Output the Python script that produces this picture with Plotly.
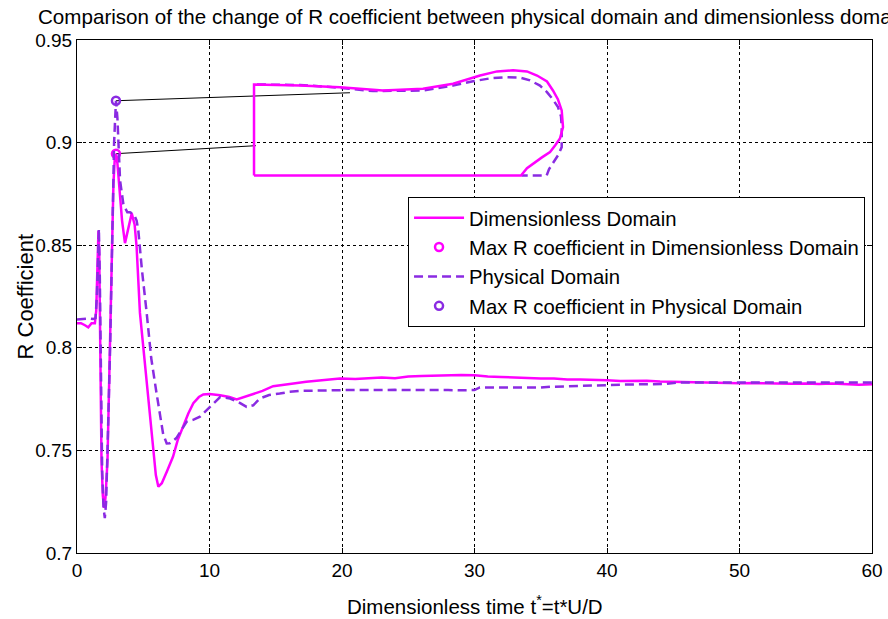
import plotly.graph_objects as go

# ---------------- data ----------------
t_dimless = [0, 0.3, 0.6, 0.85, 1.1, 1.35, 1.45, 1.55, 1.62, 1.68, 1.75, 1.85, 1.95, 2.05, 2.15,
             2.3, 2.45, 2.6, 2.75, 2.85, 2.94, 3.05, 3.2, 3.4, 3.62, 3.85, 4.13, 4.35, 4.5, 4.75,
             5.0, 5.26, 5.5, 5.76, 5.95, 6.14, 6.4, 6.8, 7.25, 7.6, 8.0, 8.4, 8.78, 9.2, 9.53,
             10.0, 10.8, 11.5, 12.05, 12.6, 13.3, 14.0, 14.8, 15.5, 16.2, 17.3, 18.5, 19.85,
             21, 22, 23, 24, 25, 26, 27, 28, 29, 30, 31, 32, 33, 34, 35, 36, 37, 38, 39, 40,
             41, 42, 43, 44, 45, 46, 47, 48, 49, 50, 51, 52, 53, 54, 55, 56, 57, 58, 59, 60]
r_dimless = [0.812, 0.812, 0.811, 0.810, 0.812, 0.812, 0.818, 0.840, 0.857, 0.845, 0.800, 0.745,
             0.728, 0.722, 0.727, 0.745, 0.790, 0.840, 0.880, 0.892, 0.8946, 0.890, 0.878, 0.862,
             0.851, 0.857, 0.8655, 0.860, 0.849, 0.817, 0.800, 0.784, 0.766, 0.749, 0.738, 0.7323,
             0.734, 0.740, 0.747, 0.755, 0.7615, 0.768, 0.773, 0.776, 0.7773, 0.7775, 0.7769,
             0.776, 0.7748, 0.776, 0.7777, 0.779, 0.7813, 0.782, 0.7825, 0.7834, 0.784, 0.785,
             0.7848, 0.785, 0.7855, 0.7852, 0.786, 0.7862, 0.7865, 0.7867, 0.7868, 0.7866,
             0.786, 0.7858, 0.7855, 0.7852, 0.785, 0.785, 0.7846, 0.7846, 0.7845, 0.7842,
             0.7838, 0.7838, 0.784, 0.7836, 0.7834, 0.7832, 0.7831, 0.783, 0.7828, 0.7827,
             0.7828, 0.7826, 0.7826, 0.7825, 0.7826, 0.7824, 0.7826, 0.7822, 0.782, 0.7822]

t_phys = [0, 0.3, 0.6, 0.9, 1.2, 1.4, 1.5, 1.58, 1.65, 1.72, 1.8, 1.9, 2.0, 2.1, 2.2, 2.35, 2.5,
          2.65, 2.8, 2.94, 3.05, 3.25, 3.5, 3.8, 4.0, 4.3, 4.5, 4.63, 4.9, 5.26, 5.6, 6.0, 6.5,
          6.77, 7.0, 7.5, 8.0, 8.28, 8.8, 9.28, 10.04, 10.8, 11.55, 12.2, 12.8, 13.3, 13.8,
          14.5, 15.3, 16.0, 16.8, 18, 19.8, 21, 22, 23, 24, 25, 26, 27, 28, 29, 30, 30.4, 31,
          32, 33, 34, 35, 35.7, 36.5, 37.5, 38.5, 39.5, 40.5, 41.5, 42.5, 43.5, 44.5, 45.3, 46,
          47, 48, 49, 50, 51, 52, 53, 54, 55, 56, 57, 58, 59, 60]
r_phys = [0.8138, 0.814, 0.8142, 0.8143, 0.814, 0.8145, 0.825, 0.845, 0.858, 0.835, 0.780, 0.740,
          0.722, 0.717, 0.725, 0.760, 0.800, 0.850, 0.900, 0.9204, 0.912, 0.8816, 0.870, 0.866,
          0.866, 0.865, 0.862, 0.857, 0.838, 0.817, 0.795, 0.778, 0.758, 0.7534, 0.7535, 0.756,
          0.7615, 0.764, 0.765, 0.7664, 0.7712, 0.776, 0.7753, 0.7735, 0.7712, 0.772, 0.7753,
          0.777, 0.7777, 0.7785, 0.779, 0.7792, 0.7794, 0.7795, 0.7794, 0.7796, 0.7795, 0.7794,
          0.7795, 0.7796, 0.7794, 0.7793, 0.7794, 0.7807, 0.7807, 0.7808, 0.7808, 0.7807,
          0.7806, 0.781, 0.7812, 0.7813, 0.7815, 0.7818, 0.7821, 0.7821, 0.7822, 0.7823,
          0.7824, 0.7831, 0.7831, 0.783, 0.7832, 0.7832, 0.7831, 0.783, 0.7832, 0.7831, 0.783,
          0.7832, 0.7831, 0.7832, 0.7833, 0.783, 0.7831]

max_dimless_t, max_dimless_r = [2.94], [0.8946]
max_phys_t, max_phys_r = [2.94], [0.9204]

# magnified view of the peak region (inset), in main-axis units
inset_dimless_t = [13.36, 13.36, 16.83, 19.85, 23.09, 26.11, 28.38, 30.42, 31.70, 32.91, 33.96,
                   34.72, 35.47, 35.92, 36.30, 36.58, 36.68, 36.45, 36.08, 35.70, 35.09, 34.42,
                   33.96, 33.51, 13.36]
inset_dimless_r = [0.8840, 0.9283, 0.9278, 0.9270, 0.9254, 0.9262, 0.9287, 0.9327, 0.9347,
                   0.9352, 0.9347, 0.9327, 0.9298, 0.9254, 0.9210, 0.9157, 0.9075, 0.9020,
                   0.8986, 0.8954, 0.8928, 0.8899, 0.8875, 0.8840, 0.8840]
inset_phys_t = [13.58, 16.83, 19.85, 22.34, 26.11, 28.38, 29.89, 31.17, 32.45, 33.43, 34.19,
                34.94, 35.47, 35.92, 36.30, 36.53, 36.58, 36.60, 36.58, 36.30, 35.92, 35.62,
                35.45, 33.56]
inset_phys_r = [0.9283, 0.9281, 0.9267, 0.9251, 0.9254, 0.9278, 0.9299, 0.9313, 0.9319, 0.9317,
                0.9303, 0.9278, 0.9246, 0.9210, 0.9173, 0.9128, 0.9075, 0.9025, 0.8978, 0.8938,
                0.8899, 0.8870, 0.8840, 0.8840]

link_upper_t, link_upper_r = [2.94, 20.6], [0.9204, 0.9243]
link_lower_t, link_lower_r = [2.94, 13.5], [0.8946, 0.8985]

x_ticks = [0, 10, 20, 30, 40, 50, 60]
y_ticks = [0.7, 0.75, 0.8, 0.85, 0.9, 0.95]

MAGENTA = "#FF00FF"
PURPLE = "#8A2BE2"
FONT = "Liberation Sans, Arial, sans-serif"

fig = go.Figure()

# connector lines and inset (no legend)
fig.add_trace(go.Scatter(x=link_upper_t, y=link_upper_r, mode="lines",
                         line=dict(color="black", width=1), showlegend=False, hoverinfo="skip"))
fig.add_trace(go.Scatter(x=link_lower_t, y=link_lower_r, mode="lines",
                         line=dict(color="black", width=1), showlegend=False, hoverinfo="skip"))
fig.add_trace(go.Scatter(x=inset_phys_t, y=inset_phys_r, mode="lines",
                         line=dict(color=PURPLE, width=2.5, dash="9px,5px"),
                         showlegend=False, hoverinfo="skip"))
fig.add_trace(go.Scatter(x=inset_dimless_t, y=inset_dimless_r, mode="lines",
                         line=dict(color=MAGENTA, width=2.5),
                         showlegend=False, hoverinfo="skip"))

# main series
fig.add_trace(go.Scatter(x=t_dimless, y=r_dimless, mode="lines", name="Dimensionless Domain",
                         line=dict(color=MAGENTA, width=2.5), legendgroup="a"))
fig.add_trace(go.Scatter(x=max_dimless_t, y=max_dimless_r, mode="markers",
                         name="Max R coefficient in Dimensionless Domain",
                         marker=dict(symbol="circle-open", size=8, color=MAGENTA, line=dict(width=2.5)),
                         legendgroup="b"))
fig.add_trace(go.Scatter(x=t_phys, y=r_phys, mode="lines", name="Physical Domain",
                         line=dict(color=PURPLE, width=2.5, dash="9px,5px"), legendgroup="c"))
fig.add_trace(go.Scatter(x=max_phys_t, y=max_phys_r, mode="markers",
                         name="Max R coefficient in Physical Domain",
                         marker=dict(symbol="circle-open", size=8, color=PURPLE, line=dict(width=2.5)),
                         legendgroup="d"))

axis_common = dict(showline=True, linecolor="black", linewidth=1, mirror="allticks",
                   ticks="inside", ticklen=5, tickcolor="black", showgrid=True,
                   gridcolor="black", gridwidth=1, griddash="3px,3px", zeroline=False,
                   automargin=False,
                   tickfont=dict(family=FONT, size=19, color="black"))

fig.update_xaxes(range=[0, 60], tickvals=x_ticks, **axis_common)
fig.update_yaxes(range=[0.7, 0.95], tickvals=y_ticks, ticktext=[f"{v:g}" for v in y_ticks],
                 **axis_common)

fig.update_layout(
    template="none",
    width=888, height=619,
    margin=dict(l=77, r=16, t=40, b=66, autoexpand=False),
    paper_bgcolor="white", plot_bgcolor="white",
    font=dict(family=FONT, color="black"),
    title=dict(text="Comparison of the change of R coefficient between physical domain and dimensionless domain",
               xref="container", x=38 / 888, xanchor="left", yref="container", y=1 - 17 / 619,
               yanchor="middle", font=dict(family=FONT, size=20.6, color="black")),
    legend=dict(x=0.4164, y=0.694, xanchor="left", yanchor="top", bgcolor="white",
                bordercolor="black", borderwidth=1, font=dict(family=FONT, size=20.3, color="black"),
                tracegroupgap=0, traceorder="grouped", itemwidth=50),
    annotations=[
        dict(text="R Coefficient", xref="paper", yref="paper", x=0, y=0.5, xshift=-52,
             xanchor="center", yanchor="middle", textangle=-90, showarrow=False,
             font=dict(family=FONT, size=22, color="black")),
        dict(text="Dimensionless time t<sup>*</sup>=t*U/D", xref="paper", yref="paper", x=0.5, y=0,
             yshift=-52, xanchor="center", yanchor="middle", showarrow=False,
             font=dict(family=FONT, size=20.5, color="black")),
    ],
    showlegend=True,
)

fig.write_html("out.html", config={"displayModeBar": False},
               post_script="document.body.style.margin='0';")
